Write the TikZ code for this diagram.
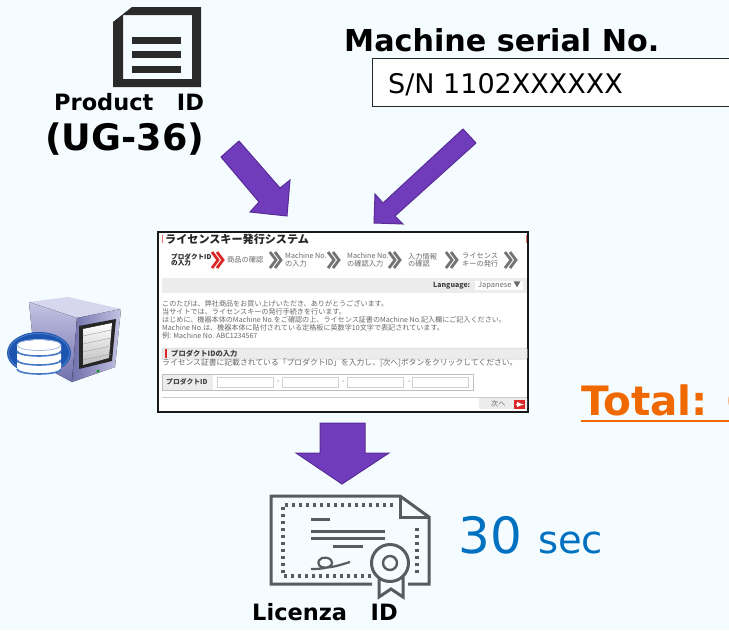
\documentclass[tikz,border=0pt]{standalone}
\usepackage{fontspec}
\setmainfont{DejaVu Sans}
\newfontfamily\cjk{Noto Sans CJK JP}
\usetikzlibrary{positioning, calc}
\definecolor{pagebg}{RGB}{245,252,255}
\definecolor{arrowpurple}{RGB}{112,60,188}
\definecolor{arrowedge}{RGB}{88,44,150}
\definecolor{icondark}{RGB}{42,42,42}
\definecolor{certgray}{RGB}{88,92,98}
\definecolor{totalorange}{RGB}{240,104,0}
\definecolor{timeblue}{RGB}{0,112,192}
\definecolor{webred}{RGB}{220,40,40}
\definecolor{webtext}{RGB}{105,105,105}
\definecolor{webband}{RGB}{236,236,236}
\definecolor{casetop}{RGB}{214,214,238}
\definecolor{caselight}{RGB}{196,196,228}
\definecolor{casedark}{RGB}{112,112,172}
\definecolor{dbblue}{RGB}{28,84,176}
\definecolor{dbline}{RGB}{70,120,200}
\newcommand{\fsz}[1]{\fontsize{#1}{#1}\selectfont}

\begin{document}
\begin{tikzpicture}[
    x=1pt, y=-1pt,
    label/.style={inner sep=0pt, font=\bfseries\fsz{22.5}, anchor=base west},
    blockarrow/.style={fill=arrowpurple, draw=arrowedge, line width=1pt, line join=miter},
    webtxt/.style={inner sep=0pt, anchor=west, text=webtext, font=\cjk\fsz{7.1}},
    webstep/.style={inner sep=0pt, anchor=west, align=left, text=webtext, font=\cjk\fsz{7.2}},
    webfield/.style={fill=white, draw=black!18, line width=0.6pt},
    certline/.style={draw=certgray, line width=3pt},
    certdots/.style={draw=certgray, line width=3.2pt, dash pattern=on 3.2pt off 3.8pt}
]
\useasboundingbox (0,0) rectangle (729,630);
\clip (0,0) rectangle (729,630);
\fill[pagebg] (0,0) rectangle (729,630);

% Document icon
\fill[icondark, even odd rule] (113,22) -- (132,7) -- (201,7) -- (201,87) -- (113,87) -- cycle
    (123,15) rectangle (192,79);
\foreach \ly in {37,51,66}
    \fill[icondark] (132,\ly) rectangle (181,\ly+7);

\node[label] (productid) at (54,110) {Product\ \ \ ID};
\node[label, font=\bfseries\fsz{36.5}] (ugcode) at (45,150) {(UG-36)};

% Serial number
\node[label, font=\bfseries\fsz{30.2}] (serialtitle) at (344,51) {Machine serial No.};
\draw[fill=white, draw=black!85, line width=1pt] (372,58) rectangle (740,106);
\node[label, font=\fsz{27}] (serialvalue) at (388,93) {S/N 1102XXXXXX};

% Arrows
\draw[blockarrow] (221,157) -- (239,141) -- (280,188) -- (290,180) -- (287,216) -- (250,212) -- (259,202) -- cycle;
\draw[blockarrow] (463,129) -- (476,143) -- (395,216) -- (403,224) -- (374,223) -- (375,194) -- (383,203) -- cycle;
\draw[blockarrow] (320,423) -- (365,423) -- (365,453) -- (389,453) -- (342,484) -- (296,453) -- (320,453) -- cycle;

% Web page
\draw[fill=white, draw=black!90, line width=2.4pt] (158,232) rectangle (528,412);
\fill[webred!70] (162,235) rectangle (163,243);
\fill[webred!70] (526,235) rectangle (527,243);
\node[webtxt, font=\cjk\bfseries\fsz{11.1}, text=black!85] (webtitle) at (165,239) {ライセンスキー発行システム};

\node[webstep, text=black!85, font=\cjk\bfseries\fsz{6.6}] (step1) at (171,260) {プロダクトID\\の入力};
\node[webstep] (step2) at (227,260) {商品の確認};
\node[webstep] (step3) at (285,260) {Machine No.\\の入力};
\node[webstep] (step4) at (347,260) {Machine No.\\の確認入力};
\node[webstep] (step5) at (408,260) {入力情報\\の確認};
\node[webstep] (step6) at (462,260) {ライセンス\\キーの発行};
\foreach \cx/\ccol in {212/webred, 270/black!55, 328/black!55, 389/black!55, 446/black!55, 505/black!55}
    \foreach \dx in {0,5}
        \draw[\ccol, line width=2.8pt] (\cx+\dx,252) -- (\cx+\dx+6,260) -- (\cx+\dx,268);

\fill[webband] (162,278) rectangle (527,293);
\node[webtxt, font=\cjk\bfseries\fsz{7}, text=black!75] (langlabel) at (433,285.5) {Language:};
\fill[white] (475,281) rectangle (523,290);
\node[webtxt, font=\cjk\fsz{7.5}] (langvalue) at (478,285.5) {Japanese ▼};

\node[webtxt] (para1) at (162,304) {このたびは、弊社商品をお買い上げいただき、ありがとうございます。};
\node[webtxt] (para2) at (162,312) {当サイトでは、ライセンスキーの発行手続きを行います。};
\node[webtxt] (para3) at (162,320) {はじめに、機器本体のMachine No.をご確認の上、ライセンス証書のMachine No.記入欄にご記入ください。};
\node[webtxt] (para4) at (162,328) {Machine No.は、機器本体に貼付されている定格板に英数字10文字で表記されています。};
\node[webtxt] (para5) at (162,336) {例: Machine No. ABC1234567};

\draw[fill=webband, draw=black!20, line width=0.5pt, rounded corners=1pt] (162,348) rectangle (527,359);
\fill[webred] (165,349) rectangle (167,358);
\node[webtxt, font=\cjk\bfseries\fsz{7.3}, text=black!75] (sectiontitle) at (171,353.5) {プロダクトIDの入力};
\node[webtxt, font=\cjk\fsz{7.8}] (sectionnote) at (162,363) {ライセンス証書に記載されている「プロダクトID」を入力し、[次へ]ボタンをクリックしてください。};

\draw[draw=black!25, line width=0.6pt] (162,374) rectangle (473,390);
\fill[webband] (162.5,374.5) rectangle (213,389.5);
\node[webtxt, font=\cjk\bfseries\fsz{6.8}, text=black!75] (fieldlabel) at (166,382) {プロダクトID};
\foreach \fx in {217,282,347,412} {
    \draw[webfield] (\fx,377) rectangle (\fx+56,387);
}
\foreach \fx in {277,342,408}
    \node[webtxt] at (\fx,382) {-};
\draw[black!20, line width=0.7pt] (162,397) -- (527,397);
\fill[webband, rounded corners=1pt] (479,398) rectangle (527,409);
\node[webtxt] (nextlabel) at (491,404) {次へ};
\fill[webred] (514,400) rectangle (525,409);
\draw[white, line width=1.4pt, -latex] (516,404.5) -- (524,404.5);

% Server icon
\fill[casetop] (29,302) -- (68,297) -- (121,309) -- (77,318) -- cycle;
\fill[top color=caselight, bottom color=casedark] (29,302) -- (77,318) -- (72,382) -- (35,362) -- cycle;
\fill[left color=casedark, right color=caselight] (77,318) -- (121,309) -- (115,367) -- (72,382) -- cycle;
\fill[black!85] (79,326) -- (116,319) -- (112,361) -- (79,369) -- cycle;
\fill[top color=white, bottom color=black!25] (83,329) -- (112,323) -- (109,358) -- (83,365) -- cycle;
\foreach \sy in {0,1,2,3}
    \draw[black!35, line width=0.5pt] (83,336+\sy*8) -- (111,330+\sy*8);
\fill[green!60!black] (98,371) circle (1.5);

\fill[dbblue] (39,353) ellipse (32 and 21);
\draw[dbline, line width=1pt] (39,353) ellipse (30.5 and 19.5);
\foreach \dy in {369,360,351} {
    \fill[white] (17,\dy-6) -- (17,\dy) arc (180:0:22 and 5) -- (61,\dy-6) -- cycle;
    \fill[white] (39,\dy-6) ellipse (22 and 5);
    \draw[dbline, line width=1.6pt] (17,\dy) arc (180:0:22 and 5);
}
\draw[dbline!50, line width=0.8pt] (39,345) ellipse (22 and 5.5);

% Certificate icon
\draw[certline] (372,584) -- (271,584) -- (271,496) -- (400,496) -- (429,517) -- (429,584) -- (408,584);
\draw[certline] (400,496) -- (400,517) -- (429,517);
\draw[certdots] (393,505) -- (283,505) -- (283,576) -- (373,576);
\draw[certdots] (417,528) -- (417,575);
\draw[certline] (311,519) -- (330,519);
\draw[certline] (311,531) -- (385,531);
\draw[certline] (311,538) -- (385,538);
\draw[certline] (333,546) -- (363,546);
\draw[certline, line width=2.2pt] (311,569) .. controls (322,569) and (336,568) .. (331,560)
    .. controls (326,555) and (316,558) .. (319,565) .. controls (323,571) and (340,565) .. (350,562);
\draw[certline, fill=pagebg] (379,577) -- (379,597) -- (391,589) -- (403,597) -- (403,577);
\draw[certline, fill=pagebg] (390,563) circle (18.5);
\draw[certline, line width=2.4pt] (390,563) circle (7);

\node[label] (licenseid) at (252,620) {Licenza\ \ \ ID};

% Timings
\node[label, font=\fsz{50}, text=timeblue] (time) at (458,553) {30};
\node[label, font=\fsz{38.5}, text=timeblue] (unit) at (538,553) {sec};
\node[label, font=\bfseries\fsz{40.5}, text=totalorange] (total) at (581,415) {Total: 6};
\draw[totalorange, line width=1.6pt] (581,421) -- (729,421);

\end{tikzpicture}
\end{document}
